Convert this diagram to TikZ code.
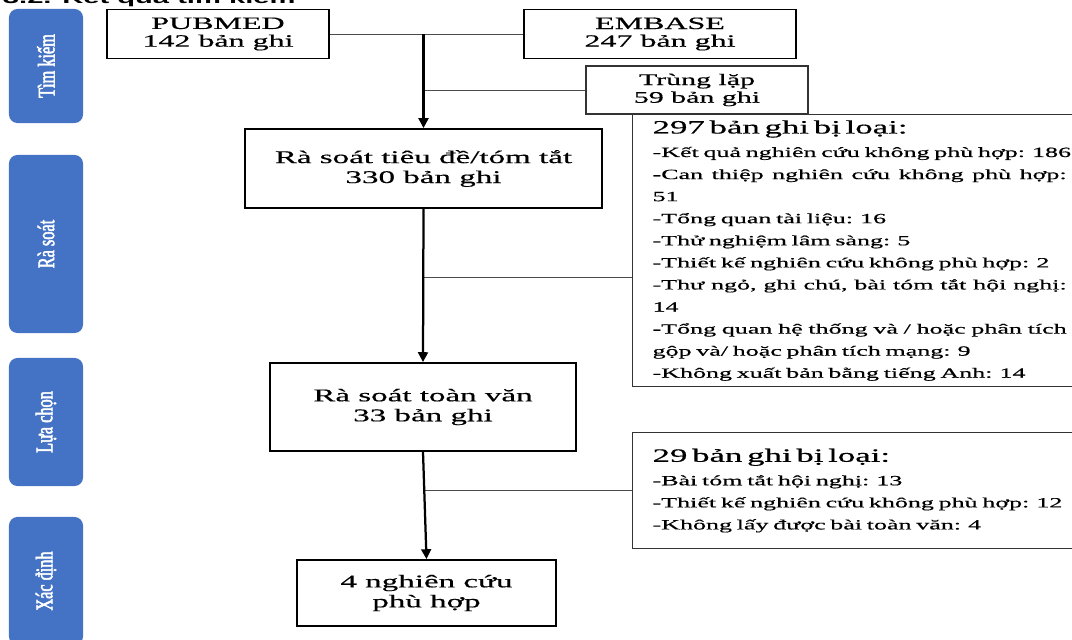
\documentclass[tikz,border=0pt]{standalone}
\usepackage{fontspec}
\setmainfont{Liberation Serif}
\newfontfamily\boxfont[FakeStretch=1.85,FakeBold=0.5]{Liberation Serif}
\newfontfamily\sidefont[FakeStretch=0.68,FakeBold=2]{Liberation Serif}
\newfontfamily\titlefont[FakeStretch=1.85]{Liberation Sans}
\usepackage{xcolor}
\definecolor{stageblue}{RGB}{68,114,196}
\usetikzlibrary{arrows.meta,positioning}
\tikzset{>={Triangle[length=7pt,width=7pt]}}
\tikzset{
  stage/.style={rotate=90, fill=stageblue, rounded corners=6pt,
    minimum height=1.85cm, text=white,
    font=\sidefont\fontsize{17}{18}\selectfont},
  srcbox/.style={draw, line width=1.3pt, align=center, inner sep=0pt,
    font=\boxfont\fontsize{12.3}{12.6}\selectfont},
  mainbox/.style={draw, line width=1.3pt, align=center, inner sep=0pt,
    font=\boxfont\fontsize{12.7}{14.2}\selectfont},
  dupbox/.style={draw=black!80, line width=0.8pt, align=center, inner sep=0pt,
    font=\boxfont\fontsize{11.5}{12.6}\selectfont},
  outbox/.style={draw=black!80, line width=0.8pt, anchor=north west,
    align=left, text width=10.7cm, inner xsep=0.5cm,
    font=\boxfont\fontsize{10}{15.7}\selectfont},
  conn/.style={draw=black!70, line width=0.7pt},
  flow/.style={->, line width=1.6pt},
}
\newcommand{\headline}[1]{{\fontsize{13.4}{15.7}\selectfont #1}}
% justified line, gaps given by \hfill
\newcommand{\jline}[1]{\leavevmode\makebox[10.35cm][s]{#1}}

\begin{document}
\begin{tikzpicture}[x=0.025cm, y=-0.025cm]
    \useasboundingbox (0,0) rectangle (1072,639);
    \node[anchor=base west, font=\titlefont\bfseries\fontsize{11.2}{12}\selectfont]
        (title) at (-2,3) {3.2. Kết quả tìm kiếm};

    % stages
    \node[stage, minimum width=2.85cm] (tk) at (46,66) {Tìm kiếm};
    \node[stage, minimum width=4.45cm] (rs) at (46,244) {Rà soát};
    \node[stage, minimum width=3.2cm] (lc) at (46,422) {Lựa chọn};
    \node[stage, minimum width=3.2cm] (xd) at (46,581) {Xác định};

    % flow boxes
    \node[srcbox, minimum width=5.55cm, minimum height=1.225cm] (pubmed) at (218,34) {PUBMED\\142 bản ghi};
    \node[srcbox, minimum width=6.8cm, minimum height=1.225cm] (embase) at (660,34) {EMBASE\\247 bản ghi};
    \node[dupbox, minimum width=5.55cm, minimum height=1.2cm] (trung) at (697,90) {Trùng lặp\\59 bản ghi};
    \node[mainbox, minimum width=8.925cm, minimum height=1.975cm] (tieude) at (423.5,168.5) {Rà soát tiêu đề/tóm tắt\\330 bản ghi};
    \node[mainbox, minimum width=7.65cm, minimum height=2.2cm] (toanvan) at (423,407) {Rà soát toàn văn\\33 bản ghi};
    \node[mainbox, minimum width=6.475cm, minimum height=1.65cm] (phuhop) at (426.5,593) {4 nghiên cứu\\phù hợp};

    % excluded
    \node[outbox, minimum height=6.8cm] (loai1) at (632,114) {%
        \headline{297 bản ghi bị loại:}\\[1pt]
        -Kết quả nghiên cứu không phù hợp: 186\\
        \jline{-Can\hfill{} thiệp\hfill{} nghiên\hfill{} cứu\hfill{} không\hfill{} phù\hfill{} hợp:}\\
        51\\
        -Tổng quan tài liệu: 16\\
        -Thử nghiệm lâm sàng: 5\\
        -Thiết kế nghiên cứu không phù hợp: 2\\
        \jline{-Thư\hfill{} ngỏ,\hfill{} ghi\hfill{} chú,\hfill{} bài\hfill{} tóm\hfill{} tắt\hfill{} hội\hfill{} nghị:}\\
        14\\
        \jline{-Tổng\hfill{} quan\hfill{} hệ\hfill{} thống\hfill{} và\hfill{} /\hfill{} hoặc\hfill{} phân\hfill{} tích}\\
        gộp và/ hoặc phân tích mạng: 9\\
        -Không xuất bản bằng tiếng Anh: 14};
    \node[outbox, minimum height=2.9cm] (loai2) at (632,432) {%
        \headline{29 bản ghi bị loại:}\\[1pt]
        -Bài tóm tắt hội nghị: 13\\
        -Thiết kế nghiên cứu không phù hợp: 12\\
        -Không lấy được bài toàn văn: 4};

    % connectors
    \draw[conn] (pubmed) -- (embase);
    \draw[conn] (trung.west -| tieude.north) -- (trung);
    \coordinate (cut1) at (423.5,277);
    \coordinate (cut2) at (424.5,490);
    \draw[conn] (cut1) -- (cut1 -| loai1.west);
    \draw[conn] (cut2) -- (cut2 -| loai2.west);
    \draw[flow] (pubmed.east -| tieude.north) -- (tieude.north);
    \draw[flow] (tieude.south) -- (toanvan.north);
    \draw[flow] (toanvan.south) -- (phuhop.north);
\end{tikzpicture}
\end{document}
